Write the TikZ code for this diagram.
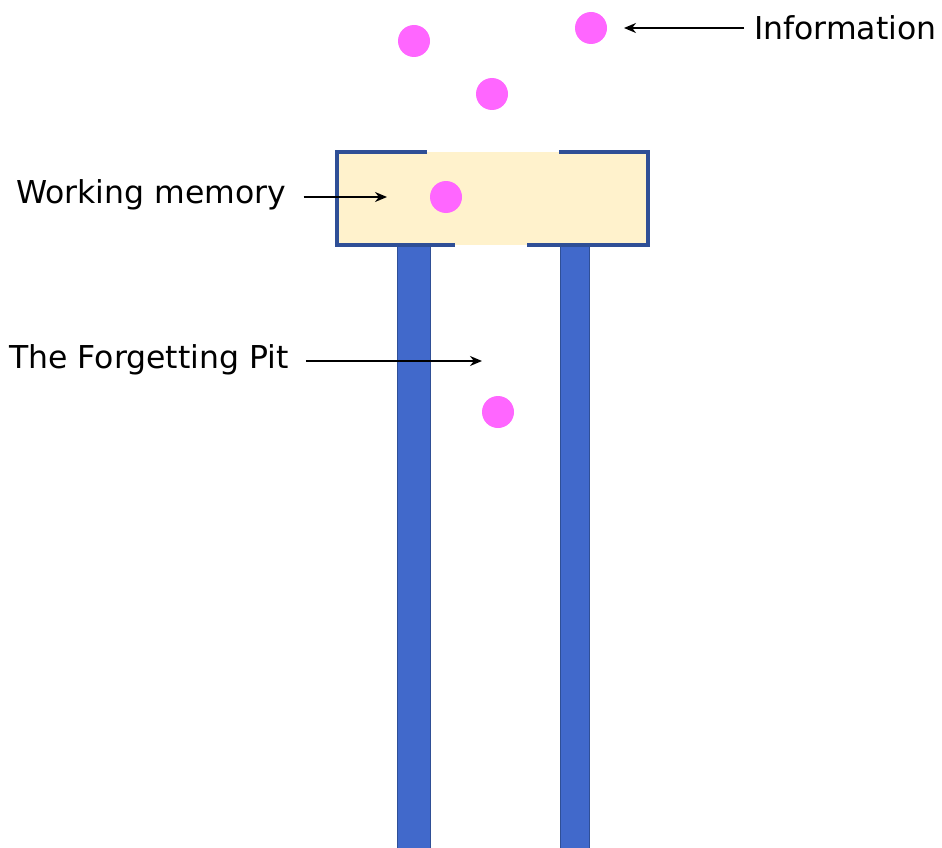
\documentclass[tikz,border=0pt]{standalone}
\usepackage{fontspec}
\setmainfont{DejaVu Sans}
\usetikzlibrary{arrows.meta}
\definecolor{wmfill}{HTML}{FFF2CC}
\definecolor{wmedge}{HTML}{2F4F96}
\definecolor{pitfill}{HTML}{4169CB}
\definecolor{pitedge}{HTML}{2F4F96}
\definecolor{dotpink}{HTML}{FF66FF}
\tikzset{
  info/.style={circle,fill=dotpink,inner sep=0pt,minimum size=32pt},
  lbl/.style={anchor=west,inner sep=0pt,font=\fontsize{31.5}{33}\selectfont},
  ptr/.style={line width=1.7pt,-{Stealth[length=12pt,width=10pt]}},
  wall/.style={line width=4pt,wmedge},
  pillar/.style={fill=pitfill,draw=pitedge,line width=1pt}
}
\begin{document}
\begin{tikzpicture}[x=1pt,y=-1pt]
\useasboundingbox (0,0) rectangle (942,848);
% pillars
\path[pillar] (397,246) rectangle (430,852);
\path[pillar] (560,246) rectangle (589,852);
% working memory box
\fill[wmfill] (337,152) rectangle (648,245);
\draw[wall] (427,152) -- (337,152) -- (337,245) -- (455,245);
\draw[wall] (527,245) -- (648,245) -- (648,152) -- (559,152);
% information dots
\node[info] (d1) at (414,41) {};
\node[info] (d2) at (591,28) {};
\node[info] (d3) at (492,94) {};
\node[info] (d4) at (446,197) {};
\node[info] (d5) at (498,412) {};
% labels
\node[lbl] (tinfo) at (754,28) {Information};
\node[lbl] (twm) at (16,195) {Working memory};
\node[lbl] (tpit) at (9,360) {The Forgetting Pit};
\coordinate (ainfo) at (624,28);
\coordinate (awm) at (387,197);
\coordinate (apit) at (482,361);
\draw[ptr] ([xshift=-10pt]tinfo.west |- ainfo) -- (ainfo);
\draw[ptr] ([xshift=17pt]twm.east |- awm) -- (awm);
\draw[ptr] ([xshift=17pt]tpit.east |- apit) -- (apit);
\end{tikzpicture}
\end{document}
